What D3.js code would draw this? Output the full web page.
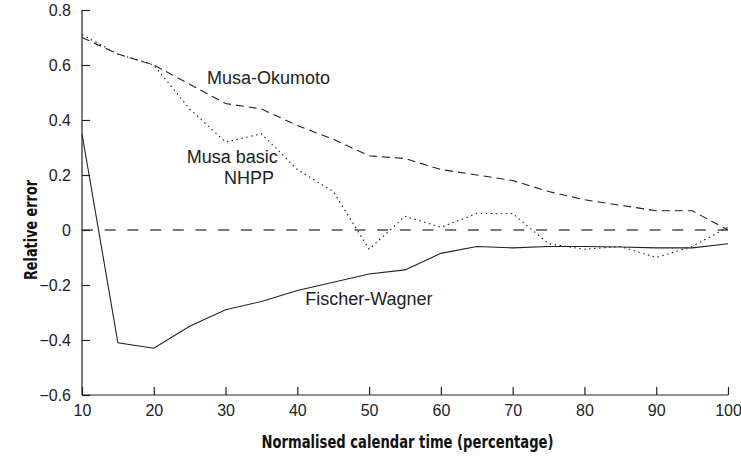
<!DOCTYPE html>
<html>
<head>
<meta charset="utf-8">
<script src="https://cdn.jsdelivr.net/npm/d3@7"></script>
<style>
body { margin: 0; background: #fff; }
.tick text { font-family: "Liberation Sans", Arial, sans-serif; font-size: 16px; fill: #222; }
.axis path, .axis line { stroke: #222; stroke-width: 1.2; }
.axis-label { font-family: "Liberation Sans Narrow", "DejaVu Sans Condensed", sans-serif; font-weight: bold; font-size: 17px; fill: #111; }
.series-label { font-family: "Liberation Sans", Arial, sans-serif; font-size: 18px; fill: #222; }
.line { fill: none; stroke: #222; stroke-width: 1.1; }
</style>
</head>
<body>
<svg width="741" height="457"></svg>
<script>
var svg = d3.select('svg');
var width = +svg.attr('width'), height = +svg.attr('height');

//Data.
var xValues = [10, 15, 20, 25, 30, 35, 40, 45, 50, 55, 60, 65, 70, 75, 80, 85, 90, 95, 100];
var fischerWagner = [0.35, -0.41, -0.43, -0.35, -0.29, -0.26, -0.22, -0.19, -0.16, -0.145, -0.085, -0.06, -0.065, -0.06, -0.06, -0.062, -0.065, -0.065, -0.05];
var musaOkumoto = [0.70, 0.64, 0.60, 0.53, 0.46, 0.44, 0.38, 0.33, 0.27, 0.26, 0.22, 0.20, 0.18, 0.14, 0.11, 0.09, 0.07, 0.07, 0.0];
var musaBasic = [0.71, 0.64, 0.60, 0.44, 0.32, 0.35, 0.22, 0.14, -0.07, 0.05, 0.01, 0.06, 0.06, -0.05, -0.07, -0.06, -0.10, -0.06, 0.01];
var xTicks = [10, 20, 30, 40, 50, 60, 70, 80, 90, 100];
var yTicks = [-0.6, -0.4, -0.2, 0, 0.2, 0.4, 0.6, 0.8];

var margin = {top: 10, right: 13, bottom: 62, left: 82};
var inner = svg.append('g')
	.attr('transform', 'translate(' + margin.left + ',' + margin.top + ')');
var heightInner = height - margin.top - margin.bottom,
		widthInner = width - margin.left - margin.right;

var xScale = d3.scaleLinear().domain([10, 100]).range([0, widthInner]);
var yScale = d3.scaleLinear().domain([-0.6, 0.8]).range([heightInner, 0]);

//Zero reference line.
inner.append('line')
	.attr('x1', 0).attr('x2', widthInner)
	.attr('y1', yScale(0)).attr('y2', yScale(0))
	.style('stroke', '#7a7a7a').style('stroke-width', 1.8)
	.style('stroke-dasharray', '11,11.7');

function rows(values) {
	return xValues.map(function(x, i) { return {x: x, y: values[i]}; });
}
var line = d3.line()
	.x(function(d) { return xScale(d.x); })
	.y(function(d) { return yScale(d.y); });

inner.append('path').datum(rows(fischerWagner))
	.attr('class', 'line').attr('d', line);
inner.append('path').datum(rows(musaOkumoto))
	.attr('class', 'line').style('stroke-dasharray', '8,5').attr('d', line);
inner.append('path').datum(rows(musaBasic))
	.attr('class', 'line').style('stroke-dasharray', '1.5,3.5').attr('d', line);

//Axes: ticks point inward.
var fmt = function(d) { return d === 0 ? '0' : d3.format('.1f')(d).replace('-', '\u2212'); };
inner.append('g')
	.attr('class', 'axis')
	.call(d3.axisLeft(yScale).tickValues(yTicks).tickFormat(fmt).tickSizeInner(-8).tickSizeOuter(0).tickPadding(11))
	.call(function(g) { g.select('.domain').attr('d', 'M0,0V' + heightInner); });
inner.append('g')
	.attr('class', 'axis')
	.attr('transform', 'translate(0,' + heightInner + ')')
	.call(d3.axisBottom(xScale).tickValues(xTicks).tickSizeInner(-8).tickSizeOuter(0).tickPadding(10))
	.call(function(g) { g.select('.domain').attr('d', 'M0,0H' + widthInner); });
svg.selectAll('.axis text').attr('font-family', null).attr('font-size', null);

//Series labels.
inner.append('text').attr('class', 'series-label')
	.attr('x', xScale(27.4)).attr('y', yScale(0.531)).text('Musa-Okumoto');
inner.append('text').attr('class', 'series-label')
	.attr('x', xScale(24.6)).attr('y', yScale(0.245)).text('Musa basic');
inner.append('text').attr('class', 'series-label')
	.attr('x', xScale(29.8)).attr('y', yScale(0.169)).text('NHPP');
inner.append('text').attr('class', 'series-label')
	.attr('x', xScale(41.1)).attr('y', yScale(-0.273)).text('Fischer-Wagner');

//Axis labels.
inner.append('text').attr('class', 'axis-label')
	.attr('text-anchor', 'middle')
	.attr('textLength', 100).attr('lengthAdjust', 'spacingAndGlyphs')
	.attr('transform', 'translate(' + (-margin.left + 37) + ',' + yScale(0) + ') rotate(-90)')
	.text('Relative error');
inner.append('text').attr('class', 'axis-label')
	.attr('text-anchor', 'middle')
	.attr('textLength', 292).attr('lengthAdjust', 'spacingAndGlyphs')
	.attr('x', 407.5 - margin.left).attr('y', heightInner + 53)
	.text('Normalised calendar time (percentage)');
</script>
</body>
</html>
